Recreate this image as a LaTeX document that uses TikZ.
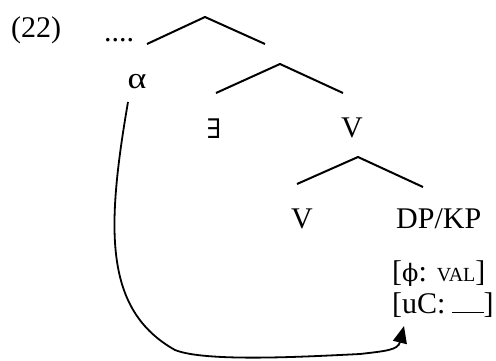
\documentclass[tikz,border=0pt]{standalone}
\usepackage{fontspec}
\setmainfont{Liberation Serif}
\newfontfamily\symfont{DejaVu Serif}
\usetikzlibrary{arrows.meta}
\begin{document}
\begin{tikzpicture}[x=1pt,y=-1pt,
  lbl/.style={anchor=base,inner sep=0pt,font=\fontsize{30}{34}\selectfont},
  lblw/.style={anchor=base west,inner sep=0pt,font=\fontsize{30}{34}\selectfont},
  branch/.style={line width=2pt},
  mv/.style={line width=1.8pt,-{Triangle[length=17pt 0 0,width=14pt 0 0]}}]
\useasboundingbox (0,0) rectangle (496,361);
\node[lblw] (ex) at (11,38) {(22)};
\node[lblw] (dots) at (104,42) {....};
\node[lbl] (alpha) at (137,89) {\scalebox{1.2}[1]{α}};
\node[lbl] (exists) at (214,139) {{\symfont\fontsize{27}{30}\selectfont ∃}};
\node[lbl] (V1) at (352,138) {V};
\node[lbl] (V2) at (302,228) {V};
\node[lblw] (dp) at (396,228) {DP/KP};
\node[lblw] (phi) at (392,281) {[{\symfont\fontsize{24}{30}\selectfont ϕ}: {\fontsize{20}{24}\selectfont VAL}]};
\node[lblw] (uc) at (392,313) {[uC:\hspace{6pt}\rule{32pt}{1.2pt}]};
% branch coordinates
\coordinate (t1l) at (147,44); \coordinate (t1a) at (205,17); \coordinate (t1r) at (265,44);
\coordinate (t2l) at (216,93); \coordinate (t2a) at (280,64); \coordinate (t2r) at (343,93);
\coordinate (t3l) at (297,184); \coordinate (t3a) at (358,157); \coordinate (t3r) at (423,187);
\draw[branch] (t1l) -- (t1a) -- (t1r);
\draw[branch] (t2l) -- (t2a) -- (t2r);
\draw[branch] (t3l) -- (t3a) -- (t3r);
% movement arrow
\coordinate (ms) at (128,102);
\coordinate (mb) at (175,350);
\coordinate (mc) at (360,354);
\coordinate (me) at (404,326);
\draw[mv] (ms) .. controls (106,230) and (104,310) .. (mb)
  .. controls (205,362) and (300,357) .. (mc)
  .. controls (386,351) and (398,350) .. (me);
\end{tikzpicture}
\end{document}
